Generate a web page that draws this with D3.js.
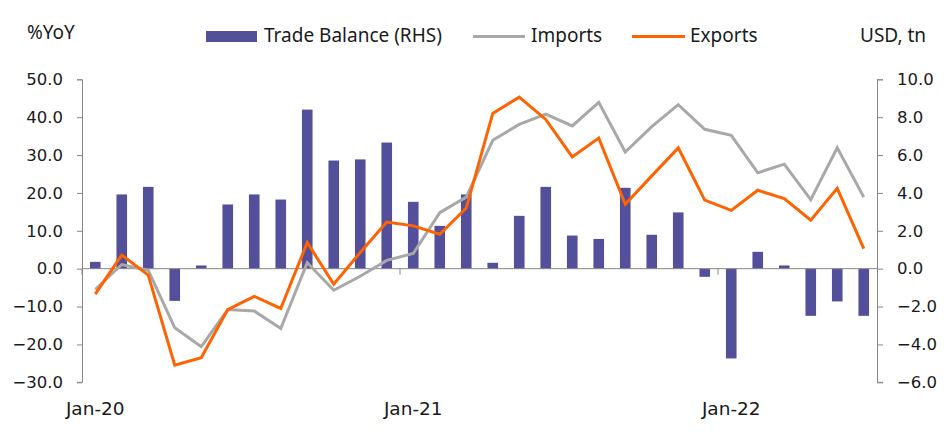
<!DOCTYPE html>
<html>
<head>
<meta charset="utf-8">
<script src="https://cdn.jsdelivr.net/npm/d3@7"></script>
<style>
  body { margin: 0; background: #fff; }
  svg text { font-family: "Noto Sans", sans-serif; font-size: 19px; fill: #1a1a1a; }
</style>
</head>
<body>
<svg id="chart" width="952" height="438"></svg>
<script>
// monthly data, Jan-20 .. Jun-22
var months = ["Jan-20", "Feb-20", "Mar-20", "Apr-20", "May-20", "Jun-20", "Jul-20", "Aug-20", "Sep-20", "Oct-20", "Nov-20", "Dec-20",
              "Jan-21", "Feb-21", "Mar-21", "Apr-21", "May-21", "Jun-21", "Jul-21", "Aug-21", "Sep-21", "Oct-21", "Nov-21", "Dec-21",
              "Jan-22", "Feb-22", "Mar-22", "Apr-22", "May-22", "Jun-22"];
var tradeBalance = [0.36, 3.92, 4.32, -1.70, 0.17, 3.39, 3.92, 3.65, 8.40, 5.71, 5.77, 6.66,
                    3.53, 2.26, 3.92, 0.31, 2.79, 4.32, 1.75, 1.57, 4.27, 1.79, 2.97, -0.43,
                    -4.74, 0.89, 0.17, -2.49, -1.73, -2.49];
var imports = [-5.5, 1.1, -0.4, -15.6, -20.6, -10.8, -11.2, -15.8, 1.6, -5.7, -2.0, 2.2,
               4.0, 14.8, 18.9, 33.9, 38.1, 40.8, 37.7, 43.9, 30.8, 37.5, 43.3, 36.8,
               35.2, 25.3, 27.6, 18.2, 31.9, 18.9];
var exports = [-6.7, 3.6, -1.7, -25.5, -23.5, -10.8, -7.3, -10.5, 6.9, -4.1, 4.3, 12.3,
               11.3, 9.1, 16.0, 41.0, 45.3, 39.4, 29.5, 34.5, 17.0, 24.5, 31.9, 18.1,
               15.4, 20.7, 18.5, 12.8, 21.2, 5.3];
var leftTicks = [-30, -20, -10, 0, 10, 20, 30, 40, 50];
var rightTicks = [-6, -4, -2, 0, 2, 4, 6, 8, 10];
var xLabels = ["Jan-20", "Jan-21", "Jan-22"];

var axisColor = "#868686";
var barColor = "#534f9a";
var importColor = "#a8a8a8";
var exportColor = "#ff6200";

var margin = { top: 79.3, right: 75, bottom: 55.7, left: 82 },
    width = 952 - margin.left - margin.right,
    height = 438 - margin.top - margin.bottom;

var svg = d3.select("#chart");
var g = svg.append("g")
    .attr("transform", "translate(" + margin.left + "," + margin.top + ")");

var xScale = d3.scaleBand()
    .domain(months)
    .range([0, width])
    .padding(0);

var yLeft = d3.scaleLinear().domain([-30, 50]).range([height, 0]);
var yRight = d3.scaleLinear().domain([-6, 10]).range([height, 0]);

function cx(d, i) { return xScale(months[i]) + xScale.bandwidth() / 2; }

// bars (RHS)
var barW = xScale.bandwidth() * 0.4;
g.selectAll(".bar")
    .data(tradeBalance)
    .enter().append("rect")
    .attr("class", "bar")
    .attr("x", function (d, i) { return cx(d, i) - barW / 2; })
    .attr("y", function (d) { return yRight(Math.max(0, d)); })
    .attr("width", barW)
    .attr("height", function (d) { return Math.abs(yRight(d) - yRight(0)); })
    .style("fill", barColor);

// zero line with yearly ticks at band edges
g.append("line")
    .attr("x1", 0).attr("x2", width)
    .attr("y1", yLeft(0)).attr("y2", yLeft(0))
    .style("stroke", axisColor).style("stroke-width", 1);

g.selectAll(".ytick")
    .data(xLabels)
    .enter().append("line")
    .attr("x1", function (d) { return xScale(d); })
    .attr("x2", function (d) { return xScale(d); })
    .attr("y1", yLeft(0)).attr("y2", yLeft(0) + 6)
    .style("stroke", axisColor);

// x labels
g.selectAll(".xlabel")
    .data(xLabels)
    .enter().append("text")
    .attr("x", function (d) { return xScale(d) + xScale.bandwidth() / 2; })
    .attr("y", height + 33)
    .attr("text-anchor", "middle")
    .style("font-family", "DejaVu Sans, sans-serif")
    .style("font-size", "18.5px")
    .text(function (d) { return d; });

// axes
var leftAxis = g.append("g")
    .call(d3.axisLeft(yLeft).tickValues(leftTicks).tickSize(5).tickPadding(14)
        .tickFormat(d3.format(".1f")));
var rightAxis = g.append("g")
    .attr("transform", "translate(" + width + ",0)")
    .call(d3.axisRight(yRight).tickValues(rightTicks).tickSize(6).tickPadding(14)
        .tickFormat(d3.format(".1f")));
[leftAxis, rightAxis].forEach(function (a) {
    a.selectAll("path, line").style("stroke", axisColor);
    a.selectAll("text").style("font-size", "16.5px").style("fill", "#1a1a1a")
        .style("font-family", "DejaVu Sans, sans-serif");
    a.select(".domain").attr("d", a === leftAxis ? "M-5,0.5H0.5V" + height + "H-5" : "M6,0.5H0.5V" + height + "H6");
});

// lines
var lineFn = function (scale) {
    return d3.line()
        .x(function (d, i) { return cx(d, i); })
        .y(function (d) { return scale(d); });
};
g.append("path")
    .datum(imports)
    .attr("d", lineFn(yLeft))
    .style("fill", "none").style("stroke", importColor).style("stroke-width", 3);
g.append("path")
    .datum(exports)
    .attr("d", lineFn(yLeft))
    .style("fill", "none").style("stroke", exportColor).style("stroke-width", 3);

// titles
svg.append("text").attr("x", 27).attr("y", 39).text("%YoY");
svg.append("text").attr("x", 860).attr("y", 42).text("USD, tn");

// legend
var legend = svg.append("g");
legend.append("rect").attr("x", 206).attr("y", 31).attr("width", 51).attr("height", 11).style("fill", barColor);
legend.append("text").attr("x", 264).attr("y", 42).text("Trade Balance (RHS)");
legend.append("line").attr("x1", 473).attr("x2", 525).attr("y1", 36.5).attr("y2", 36.5)
    .style("stroke", importColor).style("stroke-width", 3);
legend.append("text").attr("x", 531).attr("y", 42).text("Imports");
legend.append("line").attr("x1", 632).attr("x2", 685).attr("y1", 36.5).attr("y2", 36.5)
    .style("stroke", exportColor).style("stroke-width", 3);
legend.append("text").attr("x", 690).attr("y", 42).text("Exports");
</script>
</body>
</html>
